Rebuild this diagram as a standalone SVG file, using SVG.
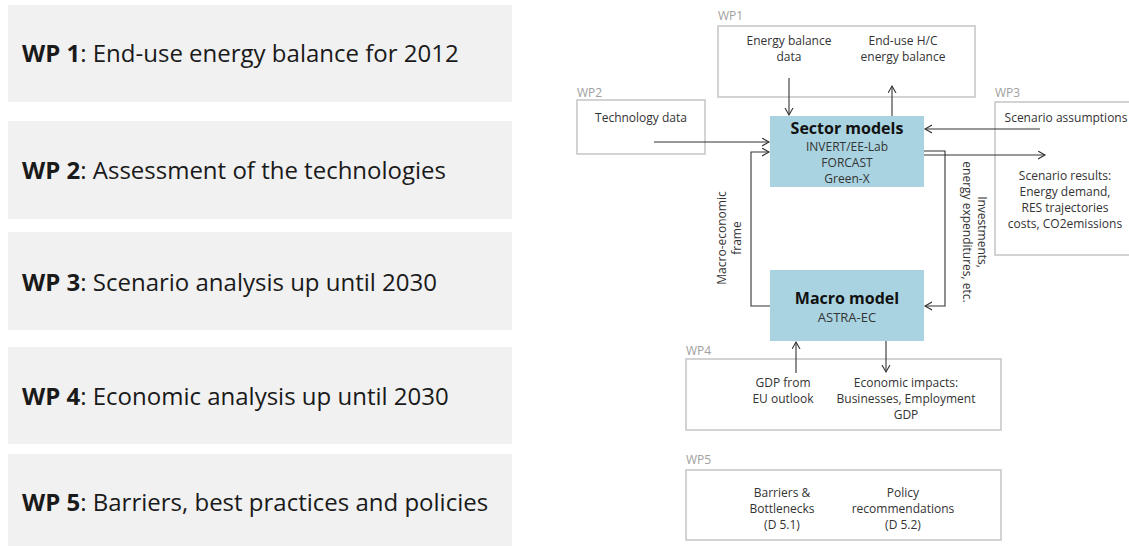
<svg xmlns="http://www.w3.org/2000/svg" width="1129" height="546" viewBox="0 0 1129 546">
<style>
.panel{fill:#f1f1f1}
.pt{font-family:"Open Sans","Noto Sans",sans-serif;font-size:24px;fill:#1a1a1a}
.pt .b{font-weight:bold}
.wp{font-family:"Open Sans","Noto Sans",sans-serif;font-size:12px;fill:#a0a0a0}
.box{fill:#fff;stroke:#c8c8c8;stroke-width:1.6}
.mbox{fill:#a9d3e0}
.t{font-family:"Open Sans","Noto Sans",sans-serif;font-size:12px;fill:#333;text-anchor:middle}
.tb{font-family:"Open Sans","Noto Sans",sans-serif;font-size:16px;font-weight:bold;fill:#111;text-anchor:middle}
.tm{font-family:"Open Sans","Noto Sans",sans-serif;font-size:13px;fill:#333;text-anchor:middle}
.c{fill:none;stroke:#333;stroke-width:1.1;marker-end:url(#ah)}
</style>
<defs>
<marker id="ah" markerUnits="userSpaceOnUse" markerWidth="10" markerHeight="10" refX="7" refY="4.5" orient="auto">
<path d="M0,0.5 L7,4.5 L0,8.5" fill="none" stroke="#333" stroke-width="1.1"/>
</marker>
</defs>

<g id="panel1"><rect class="panel" x="8" y="5" width="504" height="97"/><text class="pt" x="22" y="62"><tspan class="b">WP 1</tspan>: End-use energy balance for 2012</text></g>
<g id="panel2"><rect class="panel" x="8" y="121" width="504" height="98"/><text class="pt" x="22" y="179"><tspan class="b">WP 2</tspan>: Assessment of the technologies</text></g>
<g id="panel3"><rect class="panel" x="8" y="232" width="504" height="98"/><text class="pt" x="22" y="291"><tspan class="b">WP 3</tspan>: Scenario analysis up until 2030</text></g>
<g id="panel4"><rect class="panel" x="8" y="347" width="504" height="97"/><text class="pt" x="22" y="405"><tspan class="b">WP 4</tspan>: Economic analysis up until 2030</text></g>
<g id="panel5"><rect class="panel" x="8" y="454" width="504" height="92"/><text class="pt" x="22" y="511"><tspan class="b">WP 5</tspan>: Barriers, best practices and policies</text></g>

<g id="wp1"><text class="wp" x="718" y="20">WP1</text><rect class="box" x="718" y="26" width="257" height="71"/>
<text class="t" y="45"><tspan x="789">Energy balance</tspan><tspan x="789" y="61">data</tspan></text>
<text class="t" y="45"><tspan x="903">End-use H/C</tspan><tspan x="903" y="61">energy balance</tspan></text></g>

<g id="wp2"><text class="wp" x="577" y="97">WP2</text><rect class="box" x="577" y="100" width="128" height="54"/>
<text class="t" x="641" y="122">Technology data</text></g>

<g id="wp3"><text class="wp" x="995" y="97">WP3</text><rect class="box" x="995" y="102" width="140" height="153"/>
<text class="t" x="1066" y="122">Scenario assumptions</text>
<text class="t" y="180"><tspan x="1065">Scenario results:</tspan><tspan x="1065" y="196">Energy demand,</tspan><tspan x="1065" y="212">RES trajectories</tspan><tspan x="1065" y="228">costs, CO2emissions</tspan></text></g>

<g id="sector"><rect class="mbox" x="770" y="116" width="154" height="71"/>
<text class="tb" x="847" y="134">Sector models</text>
<text class="t" y="151"><tspan x="847">INVERT/EE-Lab</tspan><tspan x="847" y="167">FORCAST</tspan><tspan x="847" y="183">Green-X</tspan></text></g>

<g id="macro"><rect class="mbox" x="770" y="270" width="154" height="71"/>
<text class="tb" x="847" y="304">Macro model</text>
<text class="tm" x="847" y="322">ASTRA-EC</text></g>

<g id="wp4"><text class="wp" x="686" y="355">WP4</text><rect class="box" x="686" y="359" width="315" height="71"/>
<text class="t" y="387"><tspan x="783">GDP from</tspan><tspan x="783" y="403">EU outlook</tspan></text>
<text class="t" y="387"><tspan x="906">Economic impacts:</tspan><tspan x="906" y="403">Businesses, Employment</tspan><tspan x="906" y="419">GDP</tspan></text></g>

<g id="wp5"><text class="wp" x="686" y="464">WP5</text><rect class="box" x="686" y="470" width="315" height="70"/>
<text class="t" y="497"><tspan x="782">Barriers &amp;</tspan><tspan x="782" y="513">Bottlenecks</tspan><tspan x="782" y="529">(D 5.1)</tspan></text>
<text class="t" y="497"><tspan x="903">Policy</tspan><tspan x="903" y="513">recommendations</tspan><tspan x="903" y="529">(D 5.2)</tspan></text></g>

<g id="labels">
<text class="t" transform="translate(726,238) rotate(-90)"><tspan x="0" y="0">Macro-economic</tspan><tspan x="0" y="15">frame</tspan></text>
<text class="t" transform="translate(978,232) rotate(90)"><tspan x="0" y="0">Investments,</tspan><tspan x="0" y="15">energy expenditures, etc.</tspan></text>
</g>

<g id="connectors">
<path class="c" d="M789,78 V115"/>
<path class="c" d="M892,116 V86"/>
<path class="c" d="M654,142 H769"/>
<path class="c" d="M770,306 H751 V152 H769"/>
<path class="c" d="M1040,129 H925"/>
<path class="c" d="M924,155 H1045"/>
<path class="c" d="M924,151 H945 V306 H925"/>
<path class="c" d="M796,373 V342"/>
<path class="c" d="M886,341 V372"/>
</g>
</svg>
